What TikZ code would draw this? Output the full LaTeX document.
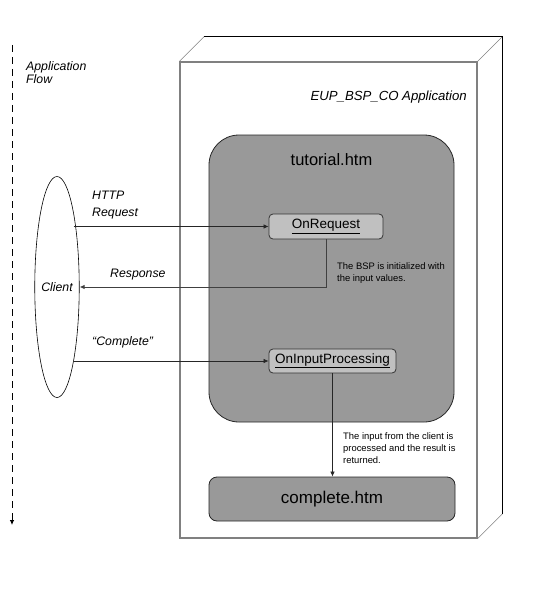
\documentclass[tikz,border=0pt]{standalone}
\usepackage{fontspec}
\setmainfont{Liberation Sans}
\usetikzlibrary{positioning,shapes.geometric,arrows.meta,calc}
\definecolor{pagegray}{HTML}{999999}
\definecolor{eventgray}{HTML}{C0C0C0}
\definecolor{framegray}{HTML}{808080}

\begin{document}
\begin{tikzpicture}[x=1pt,y=-1pt,
    page/.style={rectangle, draw=black!85, fill=pagegray, line width=0.8pt},
    event/.style={rectangle, draw=black!80, fill=eventgray, rounded corners=4pt, line width=0.8pt, inner sep=0pt, font=\fontsize{13.5}{16}\selectfont},
    lbl/.style={font=\fontsize{12.3}{16.5}\selectfont\itshape, align=left, inner sep=0pt},
    note/.style={font=\fontsize{9.4}{12}\selectfont, align=left, inner sep=0pt},
    arrow/.style={-{Latex[length=5pt,width=4.5pt]}, line width=0.7pt, black!85}
  ]
  \useasboundingbox (0,0) rectangle (539,591);

  % application box (front face plus depth)
  \node[rectangle, draw=framegray, line width=1.2pt, minimum width=297pt, minimum height=476pt] (app) at (328.5,300) {};
  \draw[framegray, line width=0.6pt] (app.north west) -- ++(25,-25) coordinate (backnw);
  \draw[framegray, line width=0.6pt] (app.north east) -- ++(25,-25) coordinate (backne);
  \draw[framegray, line width=0.6pt] (app.south east) -- ++(25,-25) coordinate (backse);
  \draw[black, line width=0.7pt] (backnw) -- (backne) -- (backse);
  \node[lbl, anchor=east, font=\fontsize{13.2}{16}\selectfont\itshape] (apptitle) at (467,97) {EUP\_BSP\_CO Application};

  % pages
  \node[page, rounded corners=30pt, minimum width=245pt, minimum height=287pt] (tutorial) at (331.5,278.5) {};
  \node[font=\fontsize{16.5}{19}\selectfont] (tuttitle) at (331.5,160) {tutorial.htm};
  \node[page, rounded corners=8pt, minimum width=246pt, minimum height=44pt, font=\fontsize{17}{20}\selectfont] (complete) at (332,499) {complete.htm};

  % event handlers
  \node[event, minimum width=114pt, minimum height=25pt] (onreq) at (326,226.5) {\underline{OnRequest}};
  \node[event, minimum width=127pt, minimum height=24pt] (oninp) at (332.5,361) {\underline{OnInputProcessing}};

  % client
  \node[ellipse, draw=black, line width=0.6pt, minimum width=42pt, minimum height=221pt, inner sep=0pt, font=\fontsize{12.3}{14}\selectfont\itshape] (client) at (57,287) {Client};

  % application flow
  \coordinate (flowtop) at (12,45);
  \coordinate (flowend) at (12,525);
  \draw[-{Latex[length=5pt,width=4.5pt]}, dash pattern=on 7pt off 5pt, line width=0.8pt] (flowtop) -- (flowend);
  \node[lbl, anchor=north west, font=\fontsize{12.3}{13.5}\selectfont\itshape] (flowlbl) at (26,61) {Application\\Flow};

  % messages
  \draw[arrow] ([xshift=-6pt]client.east |- onreq.west) -- (onreq.west);
  \node[lbl, anchor=north west] (httplbl) at (92,191) {HTTP\\Request};
  \draw[arrow, line width=1pt, black!75] (onreq.south) |- (client.east);
  \node[lbl, anchor=west] (resplbl) at (110,275) {Response};
  \node[note, anchor=north west] (initnote) at (337,262) {The BSP is initialized with\\the input values.};
  \draw[arrow] ([xshift=-6pt]client.east |- oninp.west) -- (oninp.west);
  \node[lbl, anchor=west] (complbl) at (92,342) {``Complete''};
  \draw[arrow] (oninp.south) -- (oninp.south |- complete.north);
  \node[note, anchor=north west] (procnote) at (343,432) {The input from the client is\\processed and the result is\\returned.};
\end{tikzpicture}
\end{document}
